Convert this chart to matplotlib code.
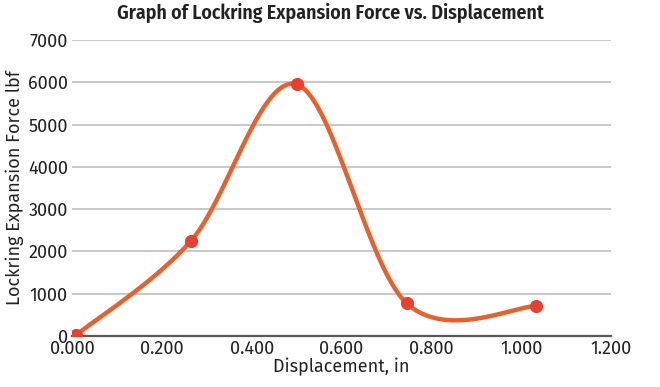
import numpy as np
import matplotlib
matplotlib.use("Agg")
import matplotlib.pyplot as plt

displacement = [0.01, 0.265, 0.50, 0.745, 1.033]
force = [30, 2250, 5950, 775, 705]
x_ticks = [0.0, 0.2, 0.4, 0.6, 0.8, 1.0, 1.2]
y_ticks = [0, 1000, 2000, 3000, 4000, 5000, 6000, 7000]

plt.rcParams['font.family'] = ['Fira Sans', 'DejaVu Sans']

def catmull_bezier(xs, ys, n=60):
    P = np.column_stack([xs, ys]).astype(float)
    P_ext = np.vstack([P[0], P, P[-1]])
    out = []
    for i in range(1, len(P_ext) - 2):
        p0, p1, p2, p3 = P_ext[i-1], P_ext[i], P_ext[i+1], P_ext[i+2]
        c1 = p1 + (p2 - p0) / 6.0
        c2 = p2 - (p3 - p1) / 6.0
        t = np.linspace(0, 1, n)[:, None]
        seg = (1-t)**3*p1 + 3*(1-t)**2*t*c1 + 3*(1-t)*t**2*c2 + t**3*p2
        out.append(seg if i == 1 else seg[1:])
    pts = np.vstack(out)
    return pts[:, 0], pts[:, 1]

fig = plt.figure(figsize=(6.6, 3.87), dpi=100)
ax = fig.add_axes([72/660, 1-336/387, (611-72)/660, (336-40)/387])
sx, sy = catmull_bezier(displacement, force)
ax.plot(sx, sy, color='#E8612C', lw=3.2, solid_capstyle='round', zorder=3)
ax.plot(displacement, force, 'o', color='#E8402F', ms=9.5, mec='none', zorder=4)

ax.set_xlim(0, 1.2)
ax.set_ylim(0, 7000)
ax.set_xticks(x_ticks)
ax.set_xticklabels([f"{v:.3f}" for v in x_ticks])
ax.set_yticks(y_ticks)
ax.set_yticklabels([str(v) for v in y_ticks])
ax.yaxis.grid(True, color='#BFBFBF', lw=1.2)
ax.set_axisbelow(True)
for s in ['top', 'right', 'left']:
    ax.spines[s].set_visible(False)
ax.spines['bottom'].set_color('#595959')
ax.spines['bottom'].set_linewidth(1.6)
ax.tick_params(length=0, labelsize=13, colors='#222222', pad=3)
ax.set_xlabel('Displacement, in', fontsize=13, color='#222222', labelpad=0)
ax.set_ylabel('Lockring Expansion Force lbf', fontsize=13, color='#222222', labelpad=3)
fig.text(0.5, 1-13/387, 'Graph of Lockring Expansion Force vs. Displacement',
         ha='center', va='center', fontsize=14.3, fontweight='semibold', color='#222222',
         family=['Fira Sans Condensed', 'DejaVu Sans'])
fig.savefig('out.png', dpi=100, facecolor='white')
